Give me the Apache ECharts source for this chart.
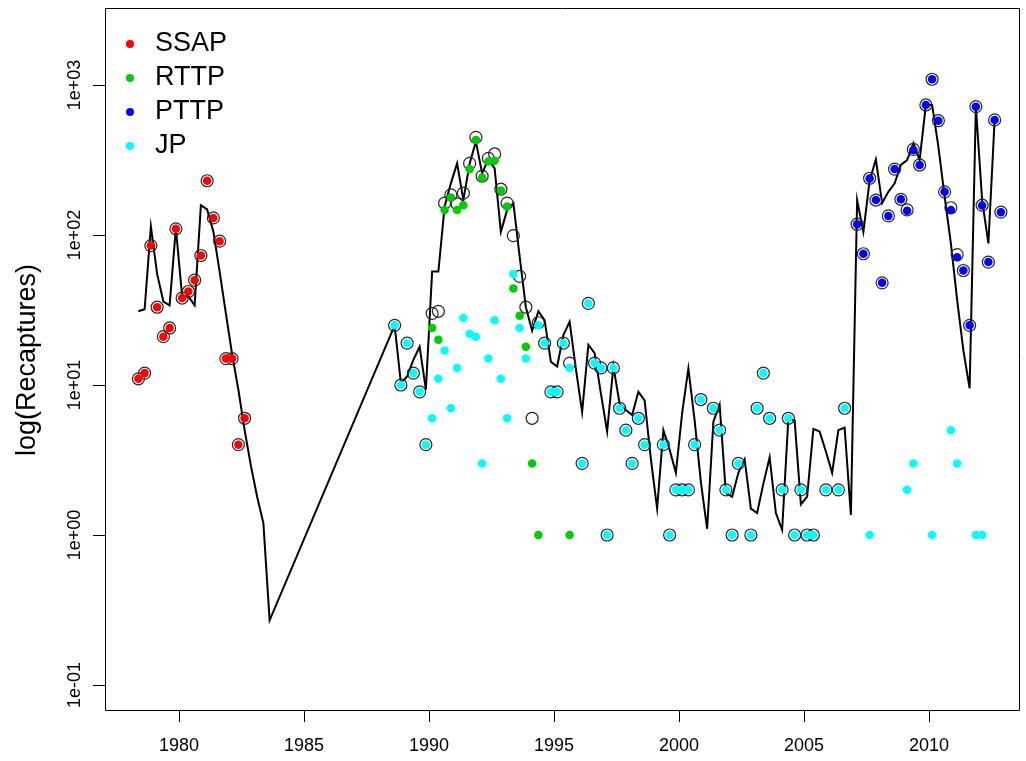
<!DOCTYPE html>
<html>
<head>
<meta charset="utf-8">
<script src="https://cdn.jsdelivr.net/npm/echarts@6/dist/echarts.min.js"></script>
<style>
  html, body { margin: 0; padding: 0; background: #ffffff; }
  #chart { width: 1026px; height: 761px; }
</style>
</head>
<body>
<div id="chart"></div>
<script>
// Quarterly recaptures by tagging programme; quarters are "YYYYQn".
const ssap = [
  ['1978Q2', 11], ['1978Q3', 12], ['1978Q4', 85], ['1979Q1', 33], ['1979Q2', 21], ['1979Q3', 24],
  ['1979Q4', 110], ['1980Q1', 38], ['1980Q2', 42], ['1980Q3', 50], ['1980Q4', 73], ['1981Q1', 230],
  ['1981Q2', 130], ['1981Q3', 91], ['1981Q4', 15], ['1982Q1', 15], ['1982Q2', 4], ['1982Q3', 6]
];

const rttp = [
  ['1990Q1', 24], ['1990Q2', 20], ['1990Q3', 147], ['1990Q4', 178], ['1991Q1', 147], ['1991Q2', 158],
  ['1991Q3', 274], ['1991Q4', 430], ['1992Q1', 242], ['1992Q2', 309], ['1992Q3', 313], ['1992Q4', 198],
  ['1993Q1', 155], ['1993Q2', 44], ['1993Q3', 29], ['1993Q4', 18], ['1994Q1', 3], ['1994Q2', 1],
  ['1995Q3', 1]
];

const pttp = [
  ['2007Q1', 118], ['2007Q2', 75], ['2007Q3', 238], ['2007Q4', 171], ['2008Q1', 48], ['2008Q2', 134],
  ['2008Q3', 275], ['2008Q4', 173], ['2009Q1', 145], ['2009Q2', 369], ['2009Q3', 293], ['2009Q4', 736],
  ['2010Q1', 1091], ['2010Q2', 578], ['2010Q3', 194], ['2010Q4', 147], ['2011Q1', 71], ['2011Q2', 58],
  ['2011Q3', 25], ['2011Q4', 717], ['2012Q1', 157], ['2012Q2', 66], ['2012Q3', 585], ['2012Q4', 142]
];

const jp = [
  ['1988Q3', 25], ['1988Q4', 10], ['1989Q1', 19], ['1989Q2', 12], ['1989Q3', 9], ['1989Q4', 4],
  ['1990Q1', 6], ['1990Q2', 11], ['1990Q3', 17], ['1990Q4', 7], ['1991Q1', 13], ['1991Q2', 28],
  ['1991Q3', 22], ['1991Q4', 21], ['1992Q1', 3], ['1992Q2', 15], ['1992Q3', 27], ['1992Q4', 11],
  ['1993Q1', 6], ['1993Q2', 55], ['1993Q3', 24], ['1993Q4', 15], ['1994Q2', 25], ['1994Q3', 19],
  ['1994Q4', 9], ['1995Q1', 9], ['1995Q2', 19], ['1995Q3', 13], ['1996Q1', 3], ['1996Q2', 35],
  ['1996Q3', 14], ['1996Q4', 13], ['1997Q1', 1], ['1997Q2', 13], ['1997Q3', 7], ['1997Q4', 5],
  ['1998Q1', 3], ['1998Q2', 6], ['1998Q3', 4], ['1999Q2', 4], ['1999Q3', 1], ['1999Q4', 2],
  ['2000Q1', 2], ['2000Q2', 2], ['2000Q3', 4], ['2000Q4', 8], ['2001Q2', 7], ['2001Q3', 5],
  ['2001Q4', 2], ['2002Q1', 1], ['2002Q2', 3], ['2002Q4', 1], ['2003Q1', 7], ['2003Q2', 12],
  ['2003Q3', 6], ['2004Q1', 2], ['2004Q2', 6], ['2004Q3', 1], ['2004Q4', 2], ['2005Q1', 1],
  ['2005Q2', 1], ['2005Q4', 2], ['2006Q2', 2], ['2006Q3', 7], ['2007Q3', 1], ['2009Q1', 2],
  ['2009Q2', 3], ['2010Q1', 1], ['2010Q4', 5], ['2011Q1', 3], ['2011Q4', 1], ['2012Q1', 1]
];

// All-programme totals, drawn as open circles
const total = [
  ['1978Q2', 11], ['1978Q3', 12], ['1978Q4', 85], ['1979Q1', 33], ['1979Q2', 21], ['1979Q3', 24],
  ['1979Q4', 110], ['1980Q1', 38], ['1980Q2', 42], ['1980Q3', 50], ['1980Q4', 73], ['1981Q1', 230],
  ['1981Q2', 130], ['1981Q3', 91], ['1981Q4', 15], ['1982Q1', 15], ['1982Q2', 4], ['1982Q3', 6],
  ['1988Q3', 25], ['1988Q4', 10], ['1989Q1', 19], ['1989Q2', 12], ['1989Q3', 9], ['1989Q4', 4],
  ['1990Q1', 30], ['1990Q2', 31], ['1990Q3', 163], ['1990Q4', 185], ['1991Q1', 161], ['1991Q2', 190],
  ['1991Q3', 300], ['1991Q4', 448], ['1992Q1', 247], ['1992Q2', 324], ['1992Q3', 347], ['1992Q4', 202],
  ['1993Q1', 163], ['1993Q2', 99], ['1993Q3', 53], ['1993Q4', 33], ['1994Q1', 6], ['1994Q2', 26],
  ['1994Q3', 19], ['1994Q4', 9], ['1995Q1', 9], ['1995Q2', 19], ['1995Q3', 14], ['1996Q1', 3],
  ['1996Q2', 35], ['1996Q3', 14], ['1996Q4', 13], ['1997Q1', 1], ['1997Q2', 13], ['1997Q3', 7],
  ['1997Q4', 5], ['1998Q1', 3], ['1998Q2', 6], ['1998Q3', 4], ['1999Q2', 4], ['1999Q3', 1],
  ['1999Q4', 2], ['2000Q1', 2], ['2000Q2', 2], ['2000Q3', 4], ['2000Q4', 8], ['2001Q2', 7],
  ['2001Q3', 5], ['2001Q4', 2], ['2002Q1', 1], ['2002Q2', 3], ['2002Q4', 1], ['2003Q1', 7],
  ['2003Q2', 12], ['2003Q3', 6], ['2004Q1', 2], ['2004Q2', 6], ['2004Q3', 1], ['2004Q4', 2],
  ['2005Q1', 1], ['2005Q2', 1], ['2005Q4', 2], ['2006Q2', 2], ['2006Q3', 7], ['2007Q1', 118],
  ['2007Q2', 75], ['2007Q3', 239], ['2007Q4', 171], ['2008Q1', 48], ['2008Q2', 134], ['2008Q3', 275],
  ['2008Q4', 173], ['2009Q1', 147], ['2009Q2', 372], ['2009Q3', 293], ['2009Q4', 736], ['2010Q1', 1092],
  ['2010Q2', 578], ['2010Q3', 194], ['2010Q4', 152], ['2011Q1', 74], ['2011Q2', 58], ['2011Q3', 25],
  ['2011Q4', 718], ['2012Q1', 158], ['2012Q2', 66], ['2012Q3', 585], ['2012Q4', 142]
];

// Predicted recaptures (black line)
const predicted = [
  ['1978Q2', 31], ['1978Q3', 32], ['1978Q4', 114], ['1979Q1', 55], ['1979Q2', 36], ['1979Q3', 34],
  ['1979Q4', 111], ['1980Q1', 39], ['1980Q2', 39], ['1980Q3', 34], ['1980Q4', 158], ['1981Q1', 148],
  ['1981Q2', 105], ['1981Q3', 57], ['1981Q4', 30], ['1982Q1', 16], ['1982Q2', 9.3], ['1982Q3', 5.0],
  ['1982Q4', 2.9], ['1983Q1', 1.8], ['1983Q2', 1.2], ['1983Q3', 0.27],
  ['1988Q3', 25], ['1988Q4', 10.3], ['1989Q1', 11.4], ['1989Q2', 14.7], ['1989Q3', 18], ['1989Q4', 9.3],
  ['1990Q1', 57], ['1990Q2', 57], ['1990Q3', 155], ['1990Q4', 221], ['1991Q1', 301], ['1991Q2', 171],
  ['1991Q3', 300], ['1991Q4', 419], ['1992Q1', 258], ['1992Q2', 320], ['1992Q3', 278], ['1992Q4', 105],
  ['1993Q1', 147], ['1993Q2', 163], ['1993Q3', 72], ['1993Q4', 33], ['1994Q1', 23], ['1994Q2', 31],
  ['1994Q3', 27], ['1994Q4', 14.3], ['1995Q1', 13.3], ['1995Q2', 21.5], ['1995Q3', 26.4], ['1995Q4', 12.8],
  ['1996Q1', 6.6], ['1996Q2', 18.5], ['1996Q3', 16.3], ['1996Q4', 8.8], ['1997Q1', 4.9], ['1997Q2', 13.3],
  ['1997Q3', 7.5], ['1997Q4', 6.8], ['1998Q1', 6.3], ['1998Q2', 9.0], ['1998Q3', 7.9], ['1998Q4', 3.2],
  ['1999Q1', 1.5], ['1999Q2', 5.0], ['1999Q3', 3.7], ['1999Q4', 2.6], ['2000Q1', 6.5], ['2000Q2', 12.9],
  ['2000Q3', 5.8], ['2000Q4', 2.25], ['2001Q1', 1.1], ['2001Q2', 5.7], ['2001Q3', 7.4], ['2001Q4', 1.9],
  ['2002Q1', 1.8], ['2002Q2', 2.6], ['2002Q3', 3.2], ['2002Q4', 1.5], ['2003Q1', 1.4], ['2003Q2', 2.2],
  ['2003Q3', 3.3], ['2003Q4', 1.4], ['2004Q1', 1.08], ['2004Q2', 6.0], ['2004Q3', 5.8], ['2004Q4', 1.6],
  ['2005Q1', 1.8], ['2005Q2', 5.1], ['2005Q3', 4.9], ['2005Q4', 3.6], ['2006Q1', 2.6], ['2006Q2', 5.0],
  ['2006Q3', 5.2], ['2006Q4', 1.36], ['2007Q1', 171], ['2007Q2', 105], ['2007Q3', 230], ['2007Q4', 319],
  ['2008Q1', 163], ['2008Q2', 194], ['2008Q3', 221], ['2008Q4', 293], ['2009Q1', 316], ['2009Q2', 409],
  ['2009Q3', 316], ['2009Q4', 736], ['2010Q1', 736], ['2010Q2', 388], ['2010Q3', 180], ['2010Q4', 88],
  ['2011Q1', 37], ['2011Q2', 17], ['2011Q3', 9.5], ['2011Q4', 717], ['2012Q1', 171], ['2012Q2', 88],
  ['2012Q3', 585]
];

// Labelled axis ranges (ticks) and the wider plotting window around them
const yearTicks = [1980, 1985, 1990, 1995, 2000, 2005, 2010];
const logTicks = [0.1, 1, 10, 100, 1000];
const yearWindow = [1977.04, 2013.64];
const valueWindow = [0.06813, 3261];

// "1990Q3" -> mid-quarter decimal year
function quarterTime(q) {
  return Number(q.slice(0, 4)) + (Number(q.slice(5)) - 0.5) / 4;
}
function toPoints(rows) {
  return rows.map(r => [quarterTime(r[0]), r[1]]);
}
function sciLabel(v) {
  const e = Math.round(Math.log10(v));
  return '1e' + (e < 0 ? '-' : '+') + String(Math.abs(e)).padStart(2, '0');
}

const FONT = '"Liberation Sans", Arial, Helvetica, sans-serif';
const DOT = 8.5;

function dots(name, color, rows) {
  return {
    name: name,
    type: 'scatter',
    data: toPoints(rows),
    symbol: 'circle',
    symbolSize: DOT,
    clip: false,
    silent: true,
    z: 4,
    itemStyle: { color: color, opacity: 1 }
  };
}

const chart = echarts.init(document.getElementById('chart'), null, { renderer: 'canvas' });

chart.setOption({
  animation: false,
  backgroundColor: '#ffffff',
  textStyle: { fontFamily: FONT },
  grid: [
    // plotting window (framed)
    { left: 105, right: 6, top: 8, bottom: 51, containLabel: false, outerBoundsMode: 'none' },
    // labelled range inside the window, carries ticks and labels
    { left: 179, right: 97, top: 85, bottom: 76, containLabel: false, outerBoundsMode: 'none' }
  ],
  graphic: [{
    type: 'rect',
    silent: true,
    z: 10,
    shape: { x: 105.5, y: 8.5, width: 914, height: 702 },
    style: { fill: 'none', stroke: '#000000', lineWidth: 1 }
  }],
  legend: {
    data: ['SSAP', 'RTTP', 'PTTP', 'JP'],
    orient: 'vertical',
    left: 121,
    top: 25.5,
    icon: 'circle',
    itemWidth: 8,
    itemHeight: 8,
    itemGap: 7,
    selectedMode: false,
    textStyle: { fontSize: 27, color: '#000000', fontFamily: FONT, padding: [0, 0, 0, 16] }
  },
  xAxis: [
    {
      gridIndex: 0, type: 'value', min: yearWindow[0], max: yearWindow[1], show: false
    },
    {
      gridIndex: 1,
      type: 'value',
      min: yearTicks[0],
      max: yearTicks[yearTicks.length - 1],
      interval: 5,
      offset: 25,
      axisLine: { show: true, lineStyle: { color: '#000000', width: 1 } },
      axisTick: { show: true, length: 12, lineStyle: { color: '#000000', width: 1 } },
      axisLabel: { fontSize: 18, color: '#000000', margin: 27, fontFamily: FONT, formatter: v => String(v) },
      splitLine: { show: false }
    }
  ],
  yAxis: [
    {
      gridIndex: 0, type: 'log', logBase: 10, min: valueWindow[0], max: valueWindow[1], show: false
    },
    {
      gridIndex: 1,
      type: 'log',
      logBase: 10,
      min: logTicks[0],
      max: logTicks[logTicks.length - 1],
      offset: 74,
      name: 'log(Recaptures)',
      nameLocation: 'middle',
      nameRotate: 90,
      nameGap: 64,
      nameTextStyle: { fontSize: 27, color: '#000000', fontFamily: FONT, padding: [0, 0, 0, 50] },
      axisLine: { show: true, lineStyle: { color: '#000000', width: 1 } },
      axisTick: { show: true, length: 12, lineStyle: { color: '#000000', width: 1 } },
      axisLabel: { rotate: 90, fontSize: 18, color: '#000000', margin: 21, fontFamily: FONT, formatter: sciLabel },
      splitLine: { show: false }
    }
  ],
  series: [
    {
      name: 'Predicted',
      type: 'line',
      xAxisIndex: 0,
      yAxisIndex: 0,
      data: toPoints(predicted),
      showSymbol: false,
      symbol: 'none',
      clip: false,
      silent: true,
      z: 2,
      lineStyle: { color: '#000000', width: 2, join: 'miter' }
    },
    {
      name: 'Total',
      type: 'scatter',
      xAxisIndex: 0,
      yAxisIndex: 0,
      data: toPoints(total),
      symbol: 'circle',
      symbolSize: 12,
      clip: false,
      silent: true,
      z: 3,
      itemStyle: { color: 'rgba(0,0,0,0)', borderColor: '#262626', borderWidth: 1.2, opacity: 1 }
    },
    dots('SSAP', '#FF0000', ssap),
    dots('RTTP', '#00CD00', rttp),
    dots('PTTP', '#0000FF', pttp),
    dots('JP', '#00FFFF', jp)
  ]
});
</script>
</body>
</html>
